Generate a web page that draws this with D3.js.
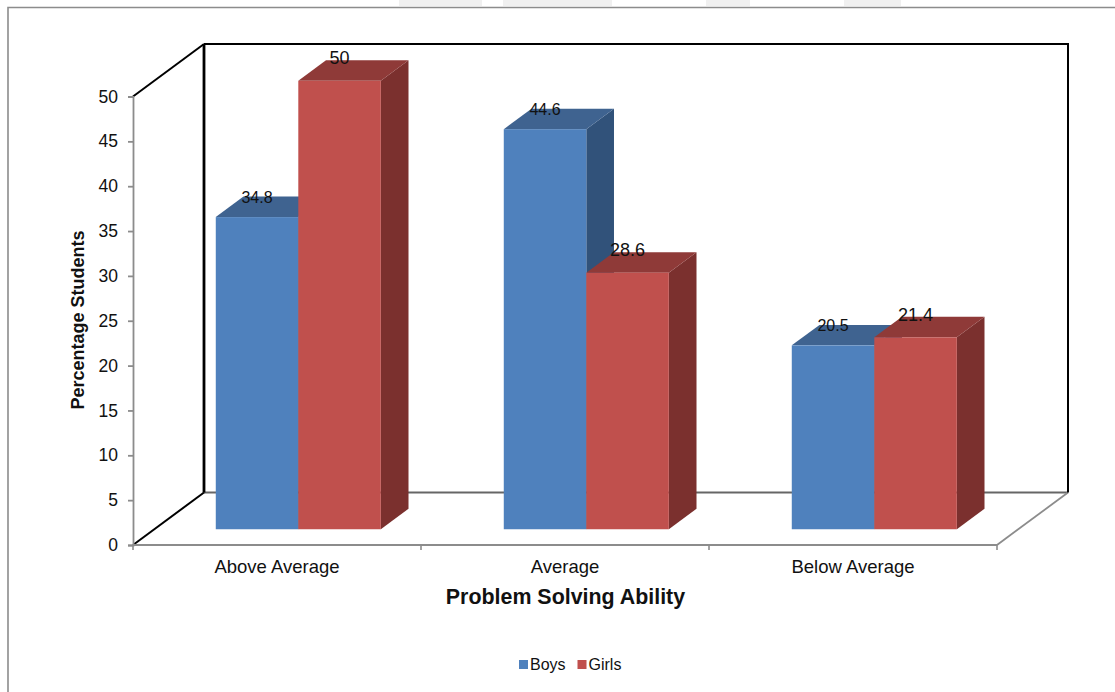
<!DOCTYPE html>
<html>
<head>
<meta charset="utf-8">
<script src="https://cdn.jsdelivr.net/npm/d3@7"></script>
<style>
  html, body { margin: 0; padding: 0; background: #fff; }
  svg { display: block; }
  text { font-family: "Liberation Sans", Arial, sans-serif; fill: #111; }
</style>
</head>
<body>
<div class="graphic"></div>
<script>
const categories = ["Above Average", "Average", "Below Average"];
const seriesNames = ["Boys", "Girls"];
const boys = [34.8, 44.6, 20.5];
const girls = [50, 28.6, 21.4];
const yTicks = [0, 5, 10, 15, 20, 25, 30, 35, 40, 45, 50];

const colors = {
  Boys: { front: "#4f81bd", top: "#3f6390", side: "#31527a" },
  Girls: { front: "#c0504d", top: "#8f3a38", side: "#7b302e" }
};
const labelSize = { Boys: 16, Girls: 18 };

const width = 1115, height = 692;
const x0 = 133, x1 = 997;
const y0 = 545, y50 = 96.5;
const wallDx = 71, wallDy = -52.5;

const svg = d3.select(".graphic").append("svg")
  .attr("width", width)
  .attr("height", height);

// faint watermark remains above the chart frame
const watermark = [[399, 83], [503, 109], [706, 44], [844, 57]];
svg.selectAll(".wm").data(watermark).enter().append("rect")
  .attr("x", d => d[0]).attr("y", 0)
  .attr("width", d => d[1]).attr("height", 6)
  .attr("fill", "#f0f0f0");

// chart frame, only top and left show
svg.append("path")
  .attr("d", `M8,${height}V7.5H${width}`)
  .attr("fill", "none")
  .attr("stroke", "#8c8c8c")
  .attr("stroke-width", 1.6);

const xCat = d3.scaleBand().domain(categories).range([x0, x1]);
const xSeries = d3.scaleBand().domain(seriesNames)
  .range([0, xCat.bandwidth()]).paddingOuter(0.745).paddingInner(0);
const y = d3.scaleLinear().domain([0, 50]).range([y0, y50]);
// depth 0 is the front edge of the floor, 1 the back wall
const depthX = d3.scaleLinear().domain([0, 1]).range([0, wallDx]);
const depthY = d3.scaleLinear().domain([0, 1]).range([0, wallDy]);

const pt = (px, py, dep) => [px + depthX(dep), py + depthY(dep)];
const poly = pts => d3.line()(pts) + "Z";

// floor and walls
const floorG = svg.append("g").attr("fill", "none");
floorG.append("path")
  .attr("d", d3.line()([pt(x0, y0, 1), pt(x1, y0, 1)]))
  .attr("stroke", "#666").attr("stroke-width", 1.8);
floorG.append("path")
  .attr("d", d3.line()([pt(x1, y0, 0), pt(x1, y0, 1)]))
  .attr("stroke", "#8c8c8c").attr("stroke-width", 1.8);

const wallG = svg.append("g").attr("fill", "none").attr("stroke", "#000");
wallG.append("path")
  .attr("d", d3.line()([pt(x0, y0, 0), pt(x0, y0, 1)]))
  .attr("stroke-width", 2);
wallG.append("path")
  .attr("d", d3.line()([pt(x0, y50, 0), pt(x0, y50, 1)]))
  .attr("stroke-width", 2);
wallG.append("path")
  .attr("d", d3.line()([pt(x0, y0, 1), pt(x0, y50, 1)]))
  .attr("stroke-width", 2.8);
wallG.append("path")
  .attr("d", d3.line()([pt(x0, y50, 1), pt(x1, y50, 1), pt(x1, y0, 1)]))
  .attr("stroke-width", 2);

// axes
const yAxis = d3.axisLeft(y).tickValues(yTicks).tickSize(5).tickPadding(10);
const gy = svg.append("g").attr("transform", `translate(${x0},0)`).call(yAxis);
gy.selectAll("line, path").attr("stroke", "#8c8c8c").attr("stroke-width", 1.8);
gy.selectAll("text").attr("font-size", 17.5).style("font-family", "Liberation Sans").attr("fill", "#111");

const catEdges = [x0].concat(categories.map(c => xCat(c) + xCat.bandwidth()));
const gx = svg.append("g");
gx.append("path")
  .attr("d", d3.line()([[x0, y0], [x1, y0]]))
  .attr("stroke", "#8c8c8c").attr("stroke-width", 2.2);
gx.selectAll("line").data(catEdges).enter().append("line")
  .attr("x1", d => d).attr("x2", d => d)
  .attr("y1", y0).attr("y2", y0 + 5)
  .attr("stroke", "#8c8c8c").attr("stroke-width", 1.6);
gx.selectAll("text").data(categories).enter().append("text")
  .attr("x", d => xCat(d) + xCat.bandwidth() / 2)
  .attr("y", 573)
  .attr("text-anchor", "middle")
  .attr("font-size", 18.5)
  .text(d => d);

// bars
const barFrontDepth = 0.3, barBackDepth = 0.69;
const rows = [];
seriesNames.forEach((name, s) => {
  const vals = s === 0 ? boys : girls;
  categories.forEach((cat, c) => rows.push({ name, cat, value: vals[c] }));
});

const bars = svg.selectAll(".bar").data(rows).enter().append("g").attr("class", "bar");
bars.each(function (d) {
  const g = d3.select(this);
  const c = colors[d.name];
  const left = xCat(d.cat) + xSeries(d.name);
  const right = left + xSeries.bandwidth();
  const top = y(d.value), base = y(0);
  const f = barFrontDepth, b = barBackDepth;

  g.append("path")
    .attr("d", poly([pt(right, base, f), pt(right, base, b), pt(right, top, b), pt(right, top, f)]))
    .attr("fill", c.side);
  g.append("path")
    .attr("d", poly([pt(left, top, f), pt(left, top, b), pt(right, top, b), pt(right, top, f)]))
    .attr("fill", c.top);
  const p = pt(left, top, f);
  const q = pt(right, base, f);
  g.append("rect")
    .attr("x", p[0]).attr("y", p[1])
    .attr("width", q[0] - p[0]).attr("height", q[1] - p[1])
    .attr("fill", c.front);
});

// value labels go above everything else, centred on the bar front
svg.selectAll(".val").data(rows).enter().append("text")
  .attr("class", "val")
  .attr("x", d => pt(xCat(d.cat) + xSeries(d.name) + xSeries.bandwidth() / 2, 0, barFrontDepth)[0])
  .attr("y", d => pt(0, y(d.value), barBackDepth)[1] + (d.name === "Boys" ? 6 : 4))
  .attr("text-anchor", "middle")
  .attr("font-size", d => labelSize[d.name])
  .text(d => d.value);

// axis titles
svg.append("text")
  .attr("transform", "translate(84,320) rotate(-90)")
  .attr("text-anchor", "middle")
  .attr("font-size", 18)
  .attr("font-weight", "bold")
  .text("Percentage Students");
svg.append("text")
  .attr("x", 565.5).attr("y", 604)
  .attr("text-anchor", "middle")
  .attr("font-size", 21.4)
  .attr("font-weight", "bold")
  .text("Problem Solving Ability");

// legend
const legendX = d3.scaleOrdinal().domain(seriesNames).range([519, 577.5]);
const legend = svg.selectAll(".legend").data(seriesNames).enter().append("g")
  .attr("class", "legend")
  .attr("transform", d => `translate(${legendX(d)},660)`);
legend.append("rect")
  .attr("width", 9).attr("height", 9)
  .attr("fill", d => colors[d].front);
legend.append("text")
  .attr("x", 11).attr("y", 9.5)
  .attr("font-size", 16)
  .text(d => d);
</script>
</body>
</html>
